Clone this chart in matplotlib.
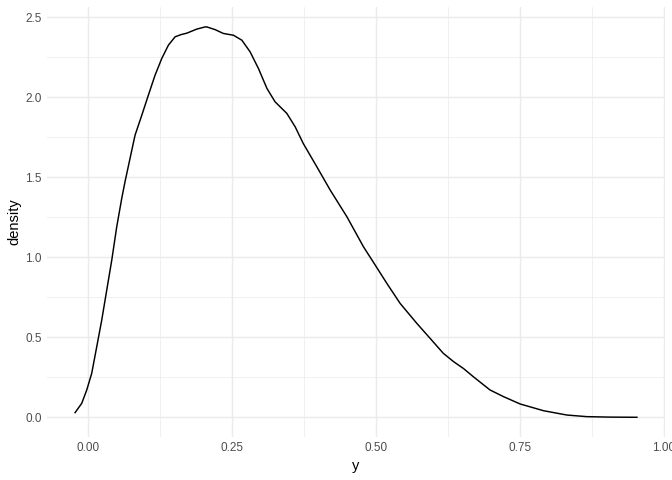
import numpy as np
import matplotlib.pyplot as plt
from matplotlib.ticker import MultipleLocator

y_val = [-0.022, -0.0104, -0.0017, 0.0069, 0.0156, 0.0243, 0.033, 0.0417, 0.0503, 0.059,
         0.0648, 0.0734, 0.0821, 0.0938, 0.1052, 0.1168, 0.1285, 0.140, 0.1516, 0.162,
         0.172, 0.189, 0.2036, 0.2066, 0.221, 0.2354, 0.2528, 0.2674, 0.2818, 0.2962,
         0.311, 0.325, 0.3455, 0.360, 0.374, 0.3976, 0.4207, 0.4497, 0.4785, 0.4988,
         0.519, 0.542, 0.571, 0.594, 0.617, 0.635, 0.652, 0.669, 0.698, 0.7215,
         0.7505, 0.791, 0.8316, 0.866, 0.907, 0.953]
densita = [0.029, 0.0875, 0.171, 0.275, 0.441, 0.608, 0.796, 0.983, 1.191, 1.369,
           1.475, 1.619, 1.764, 1.889, 2.014, 2.139, 2.244, 2.327, 2.379, 2.393,
           2.402, 2.427, 2.441, 2.441, 2.424, 2.40, 2.389, 2.358, 2.285, 2.181,
           2.056, 1.973, 1.90, 1.816, 1.712, 1.566, 1.421, 1.254, 1.066, 0.952,
           0.8375, 0.7125, 0.5875, 0.494, 0.40, 0.3475, 0.305, 0.254, 0.171, 0.129,
           0.083, 0.041, 0.014, 0.004, 0.001, 0.0]

plt.rcParams['font.family'] = ['Liberation Sans', 'DejaVu Sans']

fig = plt.figure(figsize=(7, 5), dpi=96)
ax = fig.add_axes([0.0699, 0.09, 0.9197, 0.8946])

ax.plot(y_val, densita, color='black', linewidth=1.1)

xr = max(y_val) - min(y_val)
ax.set_xlim(min(y_val) - 0.05 * xr, max(y_val) + 0.05 * xr)
yr = max(densita)
ax.set_ylim(-0.05 * yr, yr * 1.05)

ax.xaxis.set_minor_locator(MultipleLocator(0.125))
ax.yaxis.set_minor_locator(MultipleLocator(0.25))
ax.set_xticks([0, 0.25, 0.5, 0.75, 1.0])
ax.set_xticklabels(['0.00', '0.25', '0.50', '0.75', '1.00'])
ax.set_yticks([0, 0.5, 1.0, 1.5, 2.0, 2.5])
ax.set_yticklabels(['0.0', '0.5', '1.0', '1.5', '2.0', '2.5'])

ax.grid(True, which='major', color='#EBEBEB', linewidth=1.1)
ax.grid(True, which='minor', color='#EBEBEB', linewidth=0.55)
ax.set_axisbelow(True)
for s in ax.spines.values():
    s.set_visible(False)
ax.tick_params(which='both', length=0, labelsize=8.8, labelcolor='#4D4D4D', pad=4)

ax.set_xlabel('y', fontsize=11, labelpad=4)
ax.set_ylabel('density', fontsize=11, labelpad=3)

plt.savefig('out.png', dpi=96)
